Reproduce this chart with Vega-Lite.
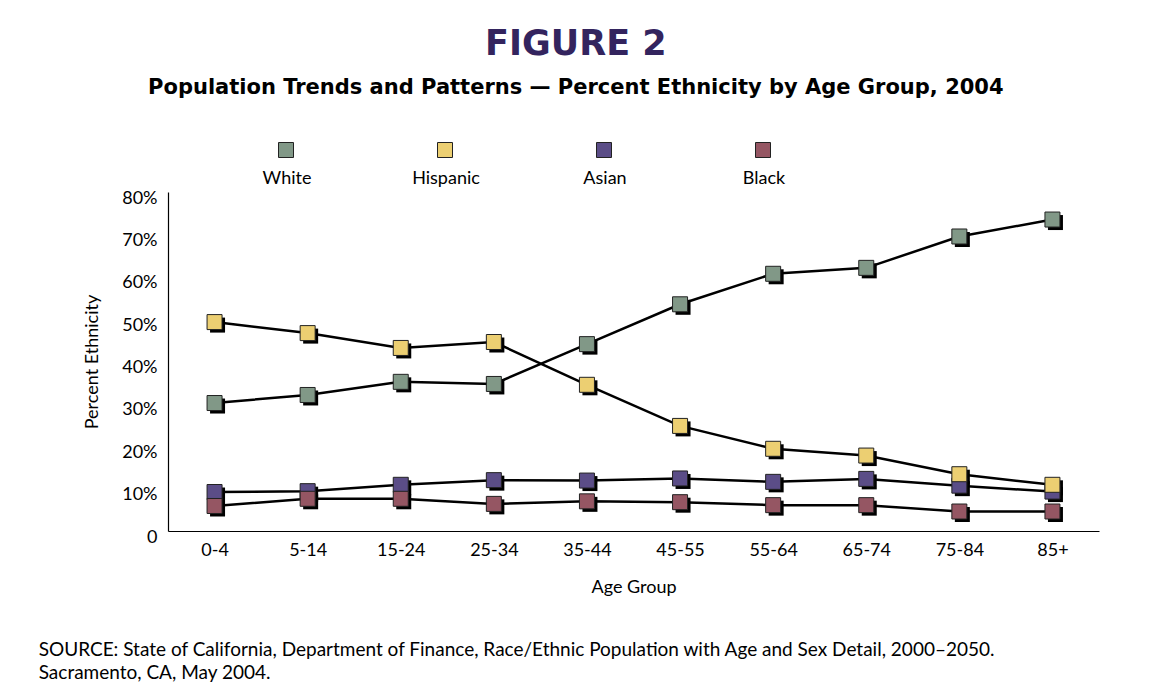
{
  "$schema": "https://vega.github.io/schema/vega-lite/v6.json",
  "background": "white",
  "padding": {"left": 38, "top": 27, "right": 5, "bottom": 5},
  "title": {
    "text": "FIGURE 2",
    "subtitle": "Population Trends and Patterns — Percent Ethnicity by Age Group, 2004",
    "anchor": "middle",
    "dx": 7,
    "font": "DejaVu Sans",
    "fontSize": 35,
    "fontWeight": 900,
    "color": "#33245e",
    "subtitleFont": "DejaVu Sans",
    "subtitleFontSize": 21,
    "subtitleFontWeight": "bold",
    "subtitleColor": "#000000",
    "subtitlePadding": 15,
    "offset": 43
  },
  "datasets": {
    "pop": [
      {"age": "0-4", "group": "Asian", "pct": 9.2},
      {"age": "5-14", "group": "Asian", "pct": 9.4},
      {"age": "15-24", "group": "Asian", "pct": 10.9},
      {"age": "25-34", "group": "Asian", "pct": 12.0},
      {"age": "35-44", "group": "Asian", "pct": 11.9},
      {"age": "45-55", "group": "Asian", "pct": 12.4},
      {"age": "55-64", "group": "Asian", "pct": 11.6},
      {"age": "65-74", "group": "Asian", "pct": 12.3},
      {"age": "75-84", "group": "Asian", "pct": 10.7},
      {"age": "85+", "group": "Asian", "pct": 9.3},
      {"age": "0-4", "group": "White", "pct": 30.2},
      {"age": "5-14", "group": "White", "pct": 32.1},
      {"age": "15-24", "group": "White", "pct": 35.2},
      {"age": "25-34", "group": "White", "pct": 34.7},
      {"age": "35-44", "group": "White", "pct": 44.1},
      {"age": "45-55", "group": "White", "pct": 53.5},
      {"age": "55-64", "group": "White", "pct": 60.7},
      {"age": "65-74", "group": "White", "pct": 62.1},
      {"age": "75-84", "group": "White", "pct": 69.5},
      {"age": "85+", "group": "White", "pct": 73.5},
      {"age": "0-4", "group": "Hispanic", "pct": 49.3},
      {"age": "5-14", "group": "Hispanic", "pct": 46.7},
      {"age": "15-24", "group": "Hispanic", "pct": 43.2},
      {"age": "25-34", "group": "Hispanic", "pct": 44.6},
      {"age": "35-44", "group": "Hispanic", "pct": 34.5},
      {"age": "45-55", "group": "Hispanic", "pct": 24.8},
      {"age": "55-64", "group": "Hispanic", "pct": 19.4},
      {"age": "65-74", "group": "Hispanic", "pct": 17.8},
      {"age": "75-84", "group": "Hispanic", "pct": 13.4},
      {"age": "85+", "group": "Hispanic", "pct": 10.9},
      {"age": "0-4", "group": "Black", "pct": 5.9},
      {"age": "5-14", "group": "Black", "pct": 7.6},
      {"age": "15-24", "group": "Black", "pct": 7.6},
      {"age": "25-34", "group": "Black", "pct": 6.4},
      {"age": "35-44", "group": "Black", "pct": 7.0},
      {"age": "45-55", "group": "Black", "pct": 6.8},
      {"age": "55-64", "group": "Black", "pct": 6.1},
      {"age": "65-74", "group": "Black", "pct": 6.1},
      {"age": "75-84", "group": "Black", "pct": 4.6},
      {"age": "85+", "group": "Black", "pct": 4.6}
    ]
  },
  "vconcat": [
    {
      "width": 931,
      "height": 339,
      "data": {"name": "pop"},
      "title": {
        "text": ["SOURCE: State of California, Department of Finance, Race/Ethnic Population with Age and Sex Detail, 2000–2050.", "Sacramento, CA, May 2004."],
        "orient": "bottom",
        "anchor": "start",
        "frame": "bounds",
        "font": "Lato",
        "fontSize": 19,
        "fontWeight": "normal",
        "color": "#000000",
        "lineHeight": 23,
        "offset": 45,
        "dx": -45
      },
      "encoding": {
        "x": {
          "field": "age",
          "type": "ordinal",
          "sort": ["0-4", "5-14", "15-24", "25-34", "35-44", "45-55", "55-64", "65-74", "75-84", "85+"],
          "scale": {"type": "point", "padding": 0.5},
          "axis": {
            "title": "Age Group",
            "labelAngle": 0,
            "ticks": false,
            "grid": false,
            "domainColor": "#000000",
            "domainWidth": 1.2,
            "labelFont": "Lato",
            "labelFontSize": 18,
            "labelColor": "#000000",
            "labelPadding": 10,
            "titleFont": "Lato",
            "titleFontSize": 18,
            "titleFontWeight": "normal",
            "titleColor": "#000000",
            "titlePadding": 19
          }
        },
        "y": {
          "field": "pct",
          "type": "quantitative",
          "scale": {"domain": [0, 80], "nice": false},
          "axis": {
            "title": "Percent Ethnicity",
            "values": [0, 10, 20, 30, 40, 50, 60, 70, 80],
            "labelExpr": "datum.value == 0 ? '0' : datum.value + '%'",
            "ticks": false,
            "grid": false,
            "domainColor": "#000000",
            "domainWidth": 1.2,
            "labelFont": "Lato",
            "labelFontSize": 18,
            "labelColor": "#000000",
            "labelPadding": 11,
            "labelOffset": 6,
            "labelFlush": false,
            "titleFont": "Lato",
            "titleFontSize": 18,
            "titleFontWeight": "normal",
            "titleColor": "#000000",
            "titlePadding": 20
          }
        }
      },
      "layer": [
        {
          "mark": {"type": "line", "color": "#000000", "strokeWidth": 2.5},
          "encoding": {"detail": {"field": "group", "type": "nominal"}}
        },
        {
          "mark": {"type": "point", "shape": "square", "filled": true, "size": 225, "color": "#000000", "opacity": 1, "xOffset": 3, "yOffset": 3},
          "encoding": {"detail": {"field": "group", "type": "nominal"}}
        },
        {
          "mark": {"type": "point", "shape": "square", "filled": true, "size": 225, "stroke": "#222222", "strokeWidth": 1, "opacity": 1},
          "encoding": {
            "fill": {
              "field": "group",
              "type": "nominal",
              "scale": {"domain": ["White", "Hispanic", "Asian", "Black"], "range": ["#819887", "#eccf72", "#5b4d87", "#955663"]},
              "legend": {
                "orient": "none",
                "legendX": 109,
                "legendY": -51,
                "direction": "horizontal",
                "columns": 4,
                "gridAlign": "all",
                "columnPadding": 91,
                "title": null,
                "symbolType": "square",
                "symbolSize": 225,
                "symbolStrokeColor": "#222222",
                "symbolStrokeWidth": 1,
                "symbolOpacity": 1,
                "labelFont": "Lato",
                "labelFontSize": 18,
                "labelColor": "#000000",
                "labelAlign": "center",
                "labelOffset": -8,
                "encode": {"labels": {"update": {"dy": {"value": 29}}}}
              }
            }
          }
        }
      ]
    }
  ],
  "config": {"view": {"stroke": null}}
}
